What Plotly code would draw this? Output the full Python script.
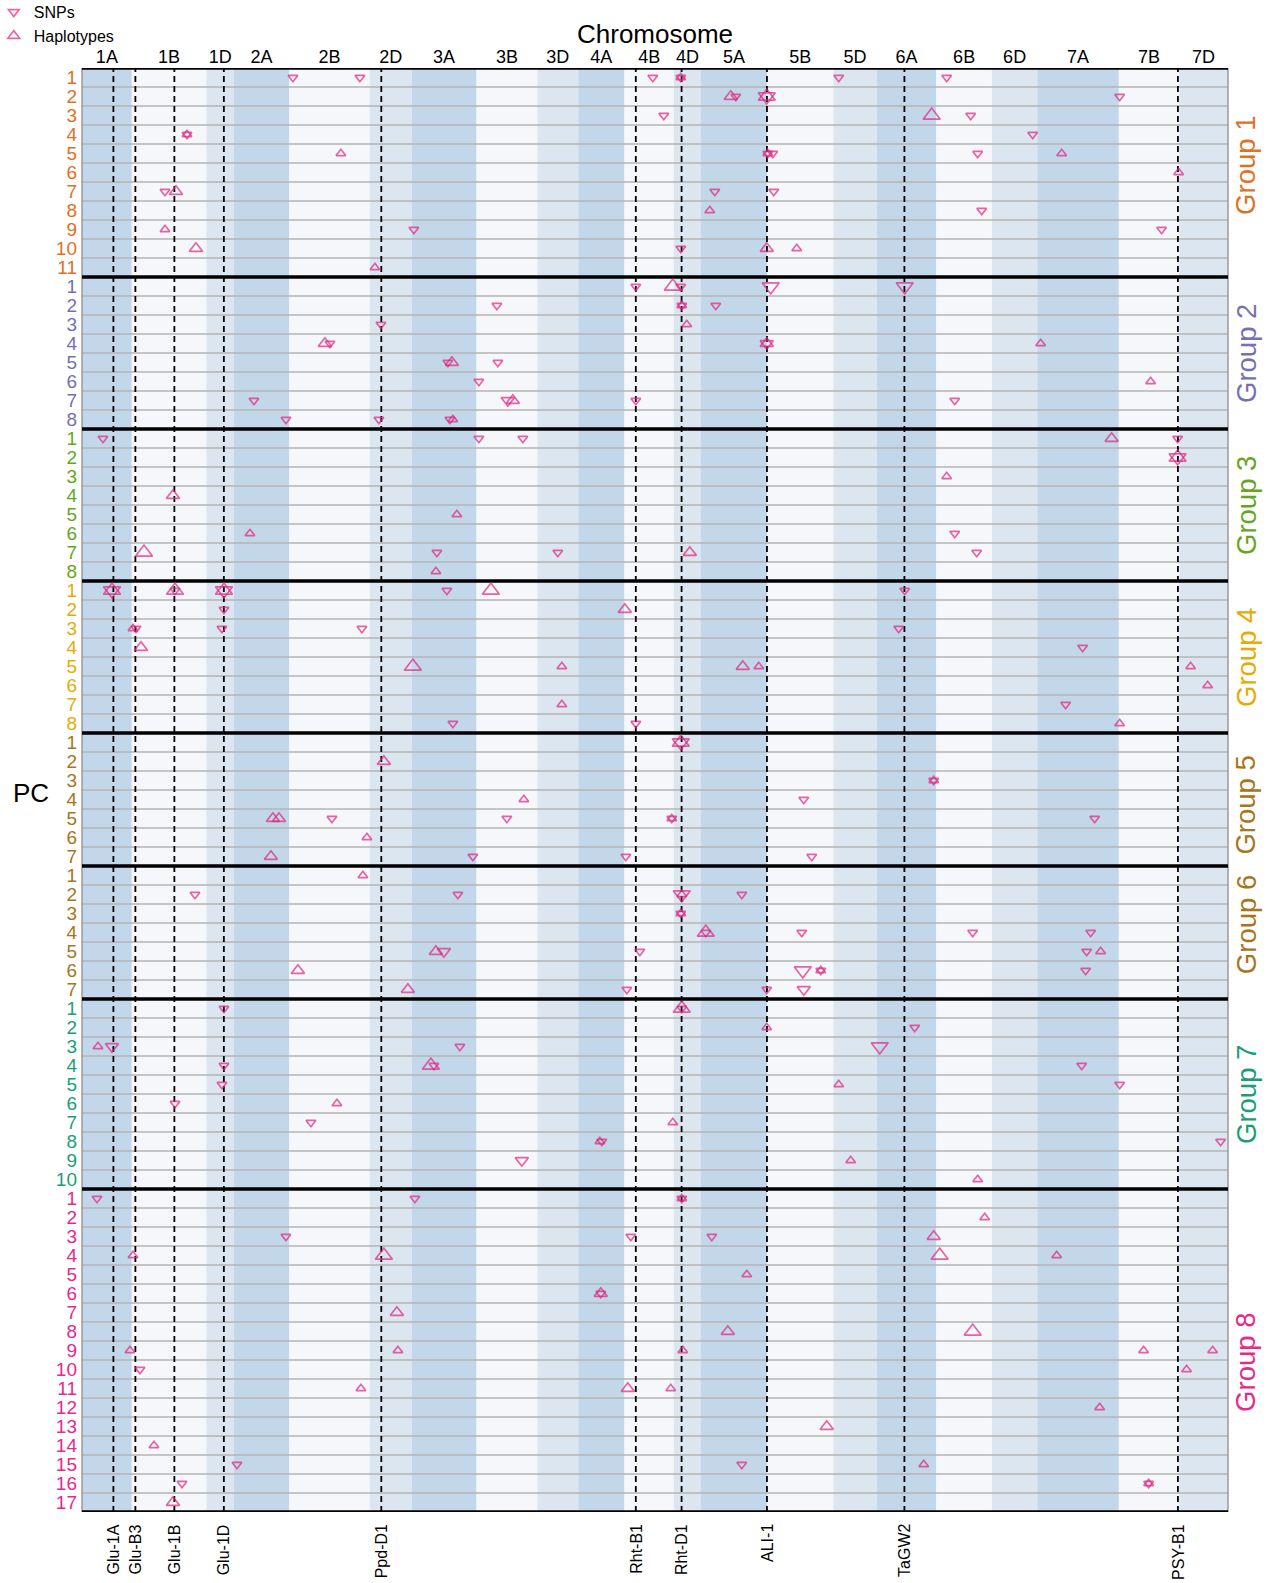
import plotly.graph_objects as go

# ---------------- data ----------------
chrom_names = ["1A", "1B", "1D", "2A", "2B", "2D", "3A", "3B", "3D", "4A", "4B",
               "4D", "5A", "5B", "5D", "6A", "6B", "6D", "7A", "7B", "7D"]
chrom_lengths = [49.8, 74.7, 27.4, 55.5, 80.4, 42.0, 64.9, 60.8, 40.9, 46.3, 49.3,
                 27.2, 66.1, 66.3, 43.3, 59.7, 55.7, 45.3, 81.6, 60.4, 48.8]

gene_names = ["Glu-1A", "Glu-B3", "Glu-1B", "Glu-1D", "Ppd-D1", "Rht-B1",
              "Rht-D1", "ALI-1", "TaGW2", "PSY-B1"]
gene_pos = [31.4, 53.4, 92.4, 141.9, 299.4, 554.0, 599.8, 685.2, 822.7, 1096.3]

group_names = ["Group 1", "Group 2", "Group 3", "Group 4",
               "Group 5", "Group 6", "Group 7", "Group 8"]
group_pc_counts = [11, 8, 8, 8, 7, 7, 10, 17]

# records: (PC, genome position, strength class)
snp_g1 = [(1, 211, 1), (1, 278, 1), (1, 571, 1), (1, 599, 1), (1, 757, 1), (1, 865, 1),
          (2, 654, 1), (2, 685, 3), (2, 1038, 1), (3, 582, 1), (3, 889, 1),
          (4, 105, 1), (4, 951, 1), (5, 686, 1), (5, 691, 1), (5, 896, 1),
          (7, 83, 1), (7, 633, 1), (7, 692, 1), (8, 900, 1), (9, 332, 1), (9, 1080, 1),
          (10, 599, 1)]
hap_g1 = [(1, 599, 1), (2, 649, 2), (2, 685, 3), (3, 850, 3), (4, 105, 1),
          (5, 259, 1), (5, 686, 1), (5, 980, 1), (6, 1097, 1), (7, 94, 2), (8, 628, 1),
          (9, 83, 1), (10, 114, 2), (10, 685, 2), (10, 715, 1), (11, 293, 1)]

snp_g2 = [(1, 554, 1), (1, 599, 1), (1, 689, 3), (1, 823, 3), (2, 415, 1), (2, 600, 1),
          (2, 634, 1), (3, 299, 1), (4, 248, 1), (4, 685, 2), (5, 366, 1), (5, 416, 1),
          (6, 397, 1), (7, 172, 1), (7, 426, 2), (7, 554, 1), (7, 873, 1),
          (8, 204, 1), (8, 297, 1), (8, 368, 1)]
hap_g2 = [(1, 591, 3), (2, 600, 1), (3, 605, 1), (4, 243, 2), (4, 685, 2), (4, 959, 1),
          (5, 370, 2), (6, 1069, 1), (7, 431, 2), (8, 371, 1)]

snp_g3 = [(1, 21, 1), (1, 397, 1), (1, 441, 1), (1, 1096, 1), (2, 1096, 3),
          (6, 873, 1), (7, 355, 1), (7, 476, 1), (7, 895, 1)]
hap_g3 = [(1, 1030, 2), (2, 1096, 3), (3, 865, 1), (4, 91, 2), (5, 375, 1),
          (6, 168, 1), (7, 62, 3), (7, 608, 2), (8, 354, 1)]

snp_g4 = [(1, 30, 3), (1, 93, 1), (1, 142, 3), (1, 365, 1), (1, 823, 1), (2, 142, 1),
          (3, 54, 1), (3, 140, 1), (3, 280, 1), (3, 817, 1), (4, 1001, 1),
          (7, 984, 1), (8, 371, 1), (8, 554, 1)]
hap_g4 = [(1, 30, 3), (1, 93, 3), (1, 142, 3), (1, 409, 3), (2, 543, 2), (3, 51, 1),
          (4, 59, 2), (5, 331, 3), (5, 480, 1), (5, 661, 2), (5, 677, 1), (5, 1109, 1),
          (6, 1126, 1), (7, 480, 1), (8, 1038, 1)]

snp_g5 = [(1, 599, 3), (3, 852, 1), (4, 722, 1), (5, 250, 1), (5, 425, 1), (5, 590, 1),
          (5, 1013, 1), (7, 391, 1), (7, 544, 1), (7, 730, 1)]
hap_g5 = [(1, 599, 3), (2, 302, 2), (3, 852, 1), (4, 442, 1), (5, 191, 2), (5, 197, 2),
          (5, 590, 1), (6, 285, 1), (7, 189, 2)]

snp_g6 = [(2, 113, 1), (2, 376, 1), (2, 600, 3), (2, 660, 1), (3, 599, 1), (4, 624, 1),
          (4, 720, 1), (4, 891, 1), (4, 1009, 1), (5, 362, 2), (5, 558, 1), (5, 1005, 1),
          (6, 721, 3), (6, 739, 1), (6, 1004, 1), (7, 545, 1), (7, 685, 1), (7, 722, 2)]
hap_g6 = [(1, 281, 1), (2, 600, 1), (3, 599, 1), (4, 624, 3), (5, 354, 2), (5, 1019, 1),
          (6, 216, 2), (6, 739, 1), (7, 326, 2)]

snp_g7 = [(1, 142, 1), (1, 600, 1), (2, 833, 1), (3, 30, 2), (3, 378, 1), (3, 798, 3),
          (4, 142, 1), (4, 352, 1), (4, 1000, 1), (5, 140, 1), (5, 1038, 1), (6, 93, 1),
          (7, 229, 1), (8, 520, 1), (8, 1139, 1), (9, 440, 2)]
hap_g7 = [(1, 600, 3), (2, 685, 1), (3, 16, 1), (4, 349, 3), (5, 757, 1), (6, 255, 1),
          (7, 591, 1), (8, 518, 1), (9, 769, 1), (10, 896, 1)]

snp_g8 = [(1, 15, 1), (1, 333, 1), (1, 600, 1), (3, 204, 1), (3, 549, 1), (3, 630, 1),
          (6, 519, 1), (10, 58, 1), (15, 155, 1), (15, 660, 1), (16, 100, 1), (16, 1067, 1)]
hap_g8 = [(1, 600, 1), (2, 903, 1), (3, 852, 2), (4, 51, 1), (4, 302, 3), (4, 858, 3),
          (4, 975, 1), (5, 665, 1), (6, 519, 2), (7, 315, 2), (8, 646, 2), (8, 891, 3),
          (9, 48, 1), (9, 316, 1), (9, 601, 1), (9, 1062, 1), (9, 1131, 1), (10, 1105, 1),
          (11, 279, 1), (11, 546, 2), (11, 589, 1), (12, 1018, 1), (13, 745, 2),
          (14, 72, 1), (15, 842, 1), (16, 1067, 1), (17, 91, 2)]

snp_groups = [snp_g1, snp_g2, snp_g3, snp_g4, snp_g5, snp_g6, snp_g7, snp_g8]
hap_groups = [hap_g1, hap_g2, hap_g3, hap_g4, hap_g5, hap_g6, hap_g7, hap_g8]

# ---------------- styles ----------------
FONT = "Liberation Sans, Arial, Helvetica, sans-serif"
group_colors = ["#E2701F", "#7570B3", "#66A61E", "#E6AB02",
                "#A6761D", "#A6761D", "#1B9E77", "#E7298A"]
group_label_shift = [-0.4, 0, 0, 0, 0.27, -0.44, 0, 0.6]   # in rows
genome_fill = {"A": "#C3D7EB", "B": "#F5F7FA", "D": "#DBE6F1"}
marker_color = "#E0237E"
size_map = {1: 8.4, 2: 11.4, 3: 14.8}

# ---------------- derived ----------------
chrom_start = []
acc = 0.0
for L in chrom_lengths:
    chrom_start.append(acc)
    acc += L
genome_total = acc
chrom_center = [s + L / 2 for s, L in zip(chrom_start, chrom_lengths)]

group_start = []
acc = 0
for n in group_pc_counts:
    group_start.append(acc)
    acc += n
n_rows = acc

def build(groups):
    xs, ys, ss = [], [], []
    for gi, recs in enumerate(groups):
        for pc, pos, cls in recs:
            xs.append(pos)
            ys.append(group_start[gi] + pc - 1)
            ss.append(size_map[cls])
    return xs, ys, ss

sx, sy, ss = build(snp_groups)
hx, hy, hs = build(hap_groups)

fig = go.Figure()
fig.add_trace(go.Scatter(
    x=sx, y=sy, mode="markers", name="SNPs",
    marker=dict(symbol="triangle-down-open", size=ss, color=marker_color,
                line=dict(width=1.7, color=marker_color)),
))
fig.add_trace(go.Scatter(
    x=hx, y=hy, mode="markers", name="Haplotypes",
    marker=dict(symbol="triangle-up-open", size=hs, color=marker_color,
                line=dict(width=1.7, color=marker_color)),
))

shapes = []
# chromosome bands
for name, s, L in zip(chrom_names, chrom_start, chrom_lengths):
    shapes.append(dict(type="rect", xref="x", yref="paper", x0=s, x1=s + L, y0=0, y1=1,
                       fillcolor=genome_fill[name[-1]], line=dict(width=0), layer="below"))
# gray row separators
group_bounds = set(group_start[1:])
for r in range(1, n_rows):
    if r in group_bounds:
        continue
    shapes.append(dict(type="line", xref="paper", yref="y", x0=0, x1=1, y0=r - 0.5, y1=r - 0.5,
                       line=dict(color="#B4B4B4", width=1.6), layer="below"))
# left/right borders
for xp in (0, 1):
    shapes.append(dict(type="line", xref="paper", yref="paper", x0=xp, x1=xp, y0=0, y1=1,
                       line=dict(color="#9A9A9A", width=1.5), layer="below"))
# dashed gene lines
for gp in gene_pos:
    shapes.append(dict(type="line", xref="x", yref="paper", x0=gp, x1=gp, y0=0, y1=1,
                       line=dict(color="black", width=1.8, dash="6px,4px"), layer="below"))
# black group separators incl. top and bottom
for b in [0] + group_start[1:] + [n_rows]:
    shapes.append(dict(type="line", xref="paper", yref="y", x0=0, x1=1, y0=b - 0.5, y1=b - 0.5,
                       line=dict(color="black", width=3.5), layer="below"))

annotations = []
annotations.append(dict(text="Chromosome", xref="paper", yref="paper", x=0.5, y=1.0236,
                        xanchor="center", yanchor="middle", showarrow=False,
                        font=dict(size=26, color="black", family=FONT)))
annotations.append(dict(text="PC", xref="paper", yref="paper", x=-0.0445, y=0.498,
                        xanchor="center", yanchor="middle", showarrow=False,
                        font=dict(size=26, color="black", family=FONT)))
for gi, (gname, n) in enumerate(zip(group_names, group_pc_counts)):
    annotations.append(dict(text=gname, xref="paper", yref="y", x=1.0157,
                            y=group_start[gi] + (n - 1) / 2 + group_label_shift[gi],
                            xanchor="center", yanchor="middle",
                            textangle=-90, showarrow=False,
                            font=dict(size=27.5, color=group_colors[gi], family=FONT)))
for gname, gp in zip(gene_names, gene_pos):
    annotations.append(dict(text=gname, xref="x", yref="paper", x=gp, y=0, yshift=-10,
                            xanchor="center", yanchor="top", textangle=-90, showarrow=False,
                            font=dict(size=16, color="black", family=FONT)))

tickvals, ticktext = [], []
for gi, n in enumerate(group_pc_counts):
    for p in range(1, n + 1):
        tickvals.append(group_start[gi] + p - 1)
        ticktext.append(f"<span style='color:{group_colors[gi]}'>{p}</span>")

fig.update_layout(
    width=1266, height=1583,
    margin=dict(l=82, r=38, t=68, b=71, pad=0, autoexpand=False),
    paper_bgcolor="white", plot_bgcolor="white",
    font=dict(family=FONT, color="black"),
    shapes=shapes, annotations=annotations,
    showlegend=True,
    legend=dict(x=-0.077, y=1.0505, xanchor="left", yanchor="top",
                font=dict(size=16, family=FONT, color="black"),
                bgcolor="rgba(0,0,0,0)", borderwidth=0, tracegroupgap=0),
    xaxis=dict(range=[0, genome_total], side="top", tickmode="array",
               tickvals=chrom_center, ticktext=chrom_names, ticks="",
               showgrid=False, zeroline=False, showline=False, automargin=False,
               tickfont=dict(size=18, family=FONT, color="black")),
    yaxis=dict(range=[n_rows - 0.5, -0.5], tickmode="array", tickvals=tickvals,
               ticktext=ticktext, ticks="", showgrid=False, zeroline=False,
               showline=False, automargin=False, ticklabelstandoff=4,
               tickfont=dict(size=19, family=FONT)),
)

fig.write_html("out.html", config={"displayModeBar": False},
               post_script="document.body.style.margin='0';")
